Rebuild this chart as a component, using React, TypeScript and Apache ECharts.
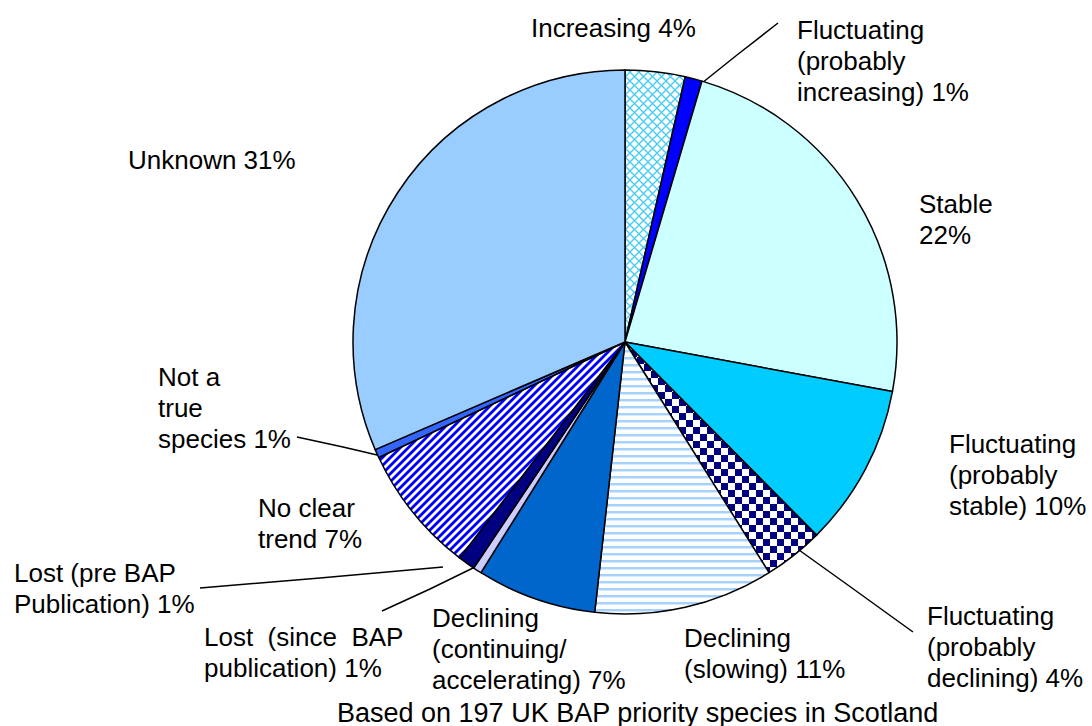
import React, { useEffect, useRef } from "react";
import * as echarts from "echarts";

// ---- data ----
const categories = [
  "Increasing",
  "Fluctuating (probably increasing)",
  "Stable",
  "Fluctuating (probably stable)",
  "Fluctuating (probably declining)",
  "Declining (slowing)",
  "Declining (continuing/accelerating)",
  "Lost (since BAP publication)",
  "Lost (pre BAP Publication)",
  "No clear trend",
  "Not a true species",
  "Unknown",
];
// number of species in each trend class (out of 197)
const speciesCounts = [7, 2, 46, 19, 7, 21, 14, 1, 2, 15, 1, 62];
const percentLabels = ["4%", "1%", "22%", "10%", "4%", "11%", "7%", "1%", "1%", "7%", "1%", "31%"];
// how each label is broken into lines (text before the percentage)
const labelLinesText = [
  ["Increasing"],
  ["Fluctuating", "(probably", "increasing)"],
  ["Stable", ""],
  ["Fluctuating", "(probably", "stable)"],
  ["Fluctuating", "(probably", "declining)"],
  ["Declining", "(slowing)"],
  ["Declining", "(continuing/", "accelerating)"],
  ["Lost  (since  BAP", "publication)"],
  ["Lost (pre BAP", "Publication)"],
  ["No clear", "trend"],
  ["Not a", "true", "species"],
  ["Unknown"],
];
const subtitle = "Based on 197 UK BAP priority species in Scotland";

// ---- layout (not data) ----
const labelPos: [number, number][] = [
  [531, 12],
  [797, 14],
  [919, 188],
  [949, 428],
  [927, 600],
  [684, 622],
  [432, 602],
  [204, 621],
  [14, 557],
  [258, 492],
  [158, 361],
  [128, 144],
];
const leaderPoints: (number[][] | null)[] = [
  null,
  [[697, 87], [737, 55], [778, 23]],
  null,
  null,
  [[792, 545], [852, 588], [913, 632]],
  null,
  null,
  [[475, 567], [430, 589], [382, 611]],
  [[443, 567], [320, 578], [200, 588]],
  null,
  [[390, 458], [343, 447], [297, 437]],
  null,
];

function makeCanvas(w: number, h: number, draw: (c: CanvasRenderingContext2D) => void) {
  const cv = document.createElement("canvas");
  cv.width = w;
  cv.height = h;
  const ctx = cv.getContext("2d")!;
  draw(ctx);
  return cv;
}

function buildFills(): any[] {
  const cross = makeCanvas(9, 9, (c) => {
    c.fillStyle = "#fff";
    c.fillRect(0, 0, 9, 9);
    c.strokeStyle = "#44CCF4";
    c.lineWidth = 1.3;
    for (const k of [-9, 0, 9]) {
      c.beginPath();
      c.moveTo(k - 2, -2);
      c.lineTo(k + 11, 11);
      c.stroke();
      c.beginPath();
      c.moveTo(k + 11, -2);
      c.lineTo(k - 2, 11);
      c.stroke();
    }
  });
  const checker = makeCanvas(14, 14, (c) => {
    c.fillStyle = "#fff";
    c.fillRect(0, 0, 14, 14);
    c.fillStyle = "#000080";
    c.fillRect(0, 0, 7, 7);
    c.fillRect(7, 7, 7, 7);
  });
  const hlines = makeCanvas(8, 7, (c) => {
    c.fillStyle = "#fff";
    c.fillRect(0, 0, 8, 7);
    c.fillStyle = "#A6D2FF";
    c.fillRect(0, 0, 8, 2);
    c.fillStyle = "#D6EAFF";
    c.fillRect(0, 2, 8, 1);
  });
  const diag = makeCanvas(8, 8, (c) => {
    c.fillStyle = "#fff";
    c.fillRect(0, 0, 8, 8);
    c.strokeStyle = "#0000FF";
    c.lineWidth = 2.8;
    for (const k of [0, 8, 16]) {
      c.beginPath();
      c.moveTo(k + 2, -2);
      c.lineTo(k - 10, 10);
      c.stroke();
    }
  });
  const pat = (img: HTMLCanvasElement) => ({ image: img, repeat: "repeat" });
  return [
    pat(cross),
    "#0000FF",
    "#CCFFFF",
    "#00CCFF",
    pat(checker),
    pat(hlines),
    "#0066CC",
    "#CCCCFF",
    "#000080",
    pat(diag),
    "#3366FF",
    "#99CCFF",
  ];
}

export default function App() {
  const ref = useRef<HTMLDivElement>(null);
  useEffect(() => {
    if (!ref.current) return;
    const chart = echarts.init(ref.current, undefined, { renderer: "svg" });
    const fills = buildFills();
    const font = "'Liberation Sans', Arial, Helvetica, sans-serif";
    const data = categories.map((name, i) => ({
      name,
      value: speciesCounts[i],
      itemStyle: { color: fills[i] },
      labelLine: { show: leaderPoints[i] != null },
    }));
    chart.setOption({
      animation: false,
      backgroundColor: "#fff",
      title: {
        text: subtitle,
        left: 337,
        top: 697,
        padding: 0,
        textStyle: {
          fontFamily: font,
          fontSize: 27,
          fontWeight: "normal",
          color: "#000",
          lineHeight: 31,
        },
      },
      series: [
        {
          type: "pie",
          center: [625, 342],
          radius: 272,
          startAngle: 90,
          clockwise: true,
          avoidLabelOverlap: false,
          silent: true,
          data,
          itemStyle: { borderColor: "#000", borderWidth: 1.5 },
          label: {
            show: true,
            position: "outside",
            color: "#000",
            fontFamily: font,
            fontSize: 26,
            lineHeight: 31,
            formatter: (p: any) => {
              const lines = labelLinesText[p.dataIndex].slice();
              const pct = percentLabels[p.dataIndex];
              if (lines[lines.length - 1] === "") lines[lines.length - 1] = pct;
              else lines[lines.length - 1] = lines[lines.length - 1] + " " + pct;
              return lines.join("\n");
            },
          },
          labelLine: {
            show: false,
            lineStyle: { color: "#000", width: 1.5 },
          },
          labelLayout: (p: any) => {
            const i = p.dataIndex;
            const out: any = {
              x: labelPos[i][0],
              y: labelPos[i][1],
              align: "left",
              verticalAlign: "top",
            };
            if (leaderPoints[i]) out.labelLinePoints = leaderPoints[i];
            return out;
          },
        },
      ],
    });
    return () => chart.dispose();
  }, []);
  return (
    <div
      ref={ref}
      style={{ position: "fixed", left: 0, top: 0, width: 1092, height: 726 }}
    />
  );
}
